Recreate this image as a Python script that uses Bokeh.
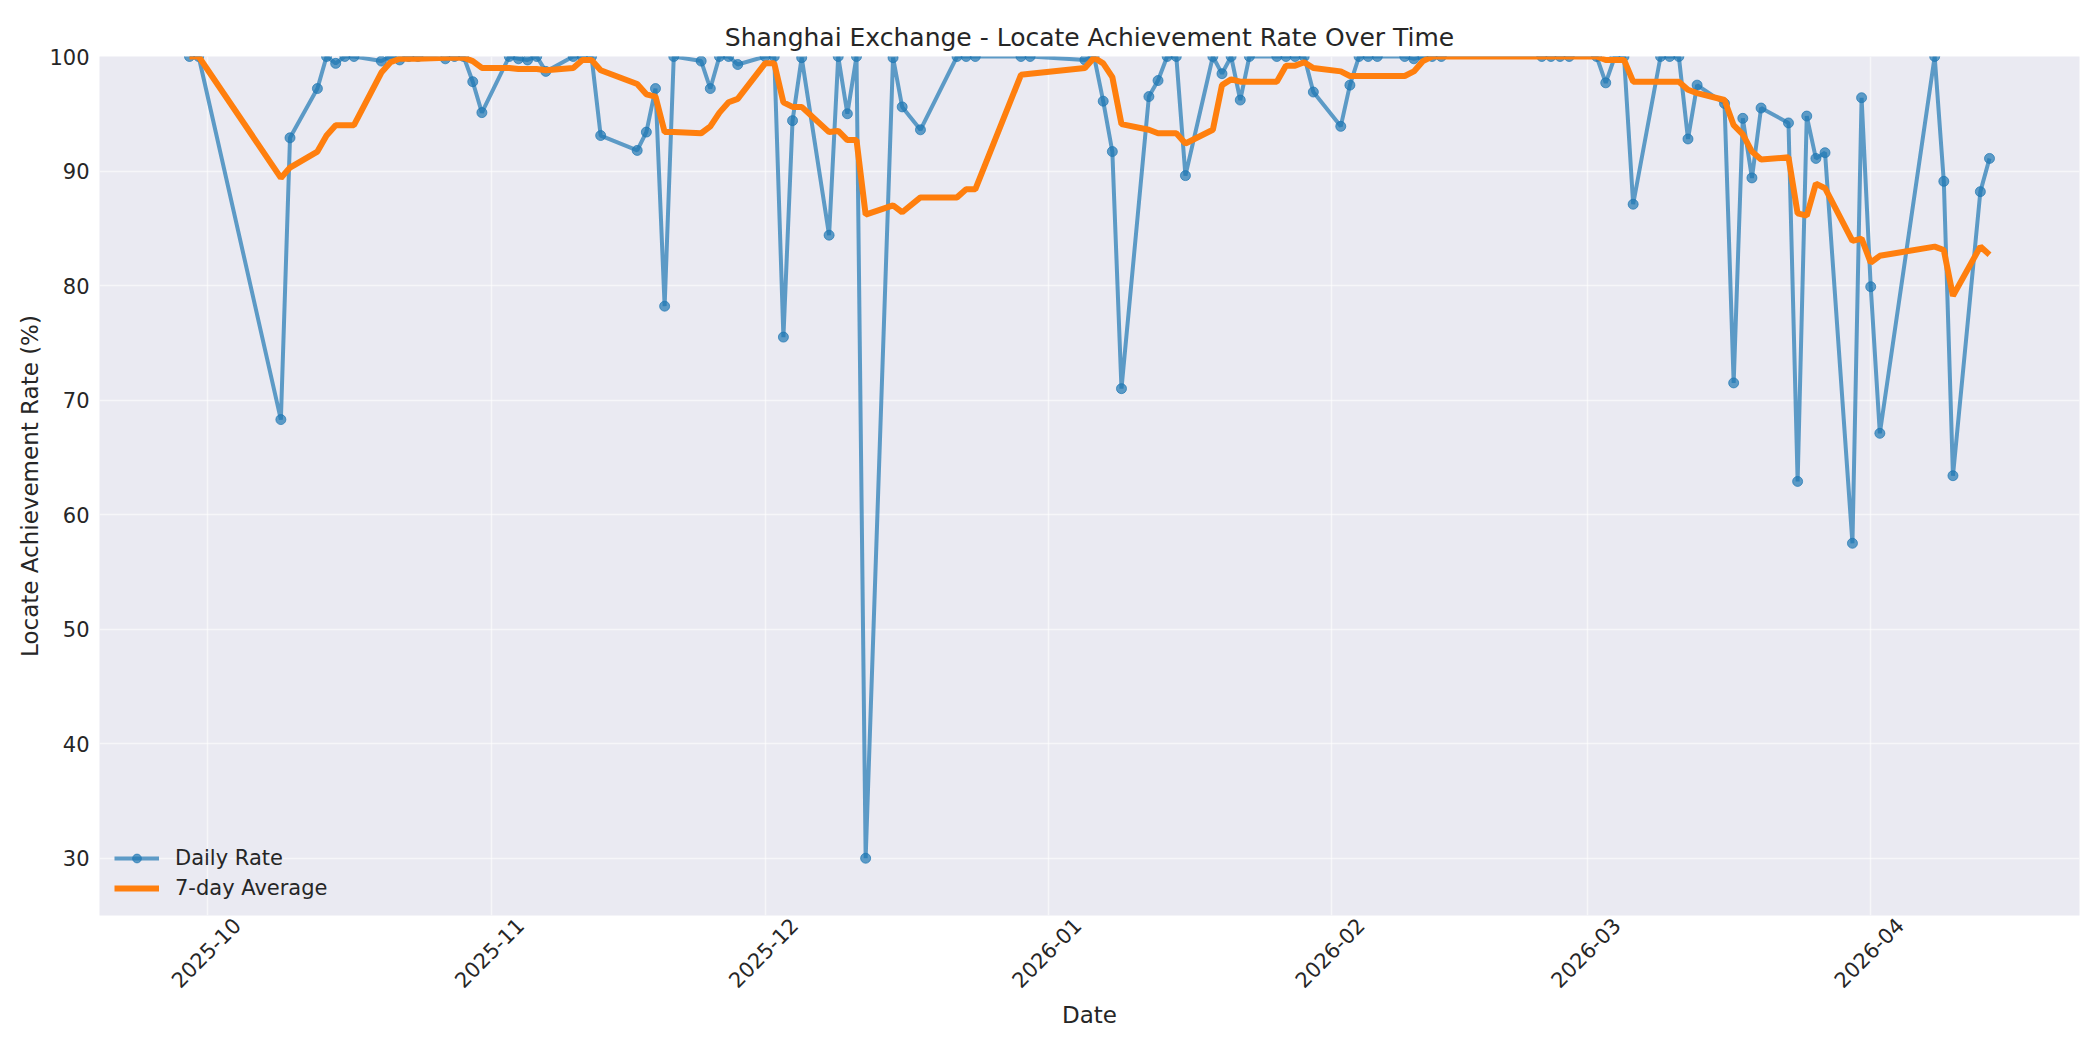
import math
import pandas as pd
from bokeh.plotting import figure
from bokeh.models import (ColumnDataSource, Range1d, FixedTicker, DatetimeTickFormatter,
                          Legend, LegendItem)
from bokeh.embed import file_html
from bokeh.resources import INLINE

dates = [
    "2025-09-29", "2025-09-30", "2025-10-09", "2025-10-10", "2025-10-13", "2025-10-14",
    "2025-10-15", "2025-10-16", "2025-10-17", "2025-10-20", "2025-10-21", "2025-10-22",
    "2025-10-23", "2025-10-24", "2025-10-27", "2025-10-28", "2025-10-29", "2025-10-30",
    "2025-10-31", "2025-11-03", "2025-11-04", "2025-11-05", "2025-11-06", "2025-11-07",
    "2025-11-10", "2025-11-11", "2025-11-12", "2025-11-13", "2025-11-17", "2025-11-18",
    "2025-11-19", "2025-11-20", "2025-11-21", "2025-11-24", "2025-11-25", "2025-11-26",
    "2025-11-27", "2025-11-28", "2025-12-01", "2025-12-02", "2025-12-03", "2025-12-04",
    "2025-12-05", "2025-12-08", "2025-12-09", "2025-12-10", "2025-12-11", "2025-12-12",
    "2025-12-15", "2025-12-16", "2025-12-18", "2025-12-22", "2025-12-23", "2025-12-24",
    "2025-12-29", "2025-12-30", "2026-01-05", "2026-01-06", "2026-01-07", "2026-01-08",
    "2026-01-09", "2026-01-12", "2026-01-13", "2026-01-14", "2026-01-15", "2026-01-16",
    "2026-01-19", "2026-01-20", "2026-01-21", "2026-01-22", "2026-01-23", "2026-01-26",
    "2026-01-27", "2026-01-28", "2026-01-29", "2026-01-30", "2026-02-02", "2026-02-03",
    "2026-02-04", "2026-02-05", "2026-02-06", "2026-02-09", "2026-02-10", "2026-02-11",
    "2026-02-12", "2026-02-13", "2026-02-24", "2026-02-25", "2026-02-26", "2026-02-27",
    "2026-03-02", "2026-03-03", "2026-03-04", "2026-03-05", "2026-03-06", "2026-03-09",
    "2026-03-10", "2026-03-11", "2026-03-12", "2026-03-13", "2026-03-16", "2026-03-17",
    "2026-03-18", "2026-03-19", "2026-03-20", "2026-03-23", "2026-03-24", "2026-03-25",
    "2026-03-26", "2026-03-27", "2026-03-30", "2026-03-31", "2026-04-01", "2026-04-02",
    "2026-04-08", "2026-04-09", "2026-04-10", "2026-04-13", "2026-04-14",
]

daily_rate = [
    100, 100, 68.3, 92.9, 97.2, 100,
    99.4, 100, 100, 99.6, 100, 99.7,
    100, 100, 99.8, 100, 100, 97.8,
    95.1, 100, 99.8, 99.7, 100, 98.7,
    100, 100, 100, 93.1, 91.8, 93.4,
    97.2, 78.2, 100, 99.6, 97.2, 100,
    100, 99.3, 100, 100, 75.5, 94.4,
    99.9, 84.4, 100, 95.0, 100, 30.0,
    99.9, 95.6, 93.6, 100, 100, 100,
    100, 100, 99.7, 100, 96.1, 91.7,
    71.0, 96.5, 97.9, 100, 100, 89.6,
    100, 98.5, 100, 96.2, 100, 100,
    100, 100, 100, 96.9, 93.9, 97.5,
    100, 100, 100, 100, 99.8, 100,
    100, 100, 100, 100, 100, 100,
    100, 97.7, 100, 100, 87.1, 100,
    100, 100, 92.8, 97.5, 95.9, 71.5,
    94.6, 89.4, 95.5, 94.2, 62.9, 94.8,
    91.1, 91.6, 57.5, 96.4, 79.9, 67.1,
    100, 89.1, 63.4, 88.2, 91.1,
]

avg_7day = [
    100, 100, 89.4, 90.3, 91.7, 93.1,
    94.0, 94.0, 94.0, 98.6, 99.5, 99.8,
    99.8, 99.8, 99.9, 99.9, 99.9, 99.6,
    99.0, 99.0, 98.9, 98.9, 98.9, 98.8,
    99.0, 99.7, 99.7, 98.8, 97.6, 96.7,
    96.5, 93.4, 93.4, 93.3, 93.9, 95.1,
    96.0, 96.3, 99.4, 99.4, 96.0, 95.6,
    95.6, 93.4, 93.5, 92.7, 92.7, 86.2,
    87.0, 86.4, 87.7, 87.7, 88.4, 88.4,
    98.4, 98.5, 99.0, 99.9, 99.4, 98.2,
    94.1, 93.6, 93.3, 93.3, 93.3, 92.4,
    93.6, 97.5, 98.0, 97.8, 97.8, 97.8,
    99.2, 99.2, 99.5, 99.0, 98.7, 98.3,
    98.3, 98.3, 98.3, 98.3, 98.7, 99.6,
    100, 100, 100, 100, 100, 100,
    100, 99.7, 99.7, 99.7, 97.8, 97.8,
    97.8, 97.8, 97.1, 96.8, 96.2, 94.0,
    93.2, 91.7, 91.0, 91.2, 86.3, 86.1,
    88.9, 88.5, 83.9, 84.1, 82.0, 82.6,
    83.4, 83.1, 79.1, 83.4, 82.7,
]

month_ticks = ["2025-10-01", "2025-11-01", "2025-12-01", "2026-01-01",
               "2026-02-01", "2026-03-01", "2026-04-01"]
y_ticks = [30, 40, 50, 60, 70, 80, 90, 100]
y_limits = [25, 100]

TXT = "#262626"
FONT = "DejaVu Sans"
W, H = 2084, 1034
BL, BR, BT, BB = 99, 5, 56, 119

x = pd.to_datetime(dates)
src = ColumnDataSource(dict(date=x, daily=daily_rate, avg=avg_7day))
pad = (x.max() - x.min()) * 0.05
x0, x1 = x.min() - pad, x.max() + pad

p = figure(width=W, height=H, x_axis_type="datetime",
           x_range=Range1d(x0.to_pydatetime(), x1.to_pydatetime()),
           y_range=Range1d(y_limits[0], y_limits[1]),
           output_backend="svg", toolbar_location=None,
           title="Shanghai Exchange - Locate Achievement Rate Over Time",
           min_border_left=BL, min_border_right=BR, min_border_top=BT, min_border_bottom=BB)

p.background_fill_color = "#EAEAF2"
p.border_fill_color = "white"
p.outline_line_color = None

p.title.text_font = FONT
p.title.text_font_size = "25px"
p.title.text_font_style = "normal"
p.title.text_color = TXT
p.title.align = "center"

r_line = p.line("date", "daily", source=src, line_color="#1f77b4", line_alpha=0.7, line_width=4)
r_pts = p.scatter("date", "daily", source=src, marker="circle", size=10,
                  fill_color="#1f77b4", line_color="#1f77b4", fill_alpha=0.7, line_alpha=0.7)
r_avg = p.line("date", "avg", source=src, line_color="#ff7f0e", line_width=6)

tick_ms = [pd.Timestamp(t).value / 1e6 for t in month_ticks]
# grid at the true month starts
p.xgrid[0].ticker = FixedTicker(ticks=tick_ms)
# Bokeh anchors rotated labels by their end; shift the label ticks so that the
# rotated labels are centred on the month starts, as in matplotlib
frame_w = W - BL - BR
ms_per_px = (x1 - x0).total_seconds() * 1000.0 / frame_w
label_shift_px = 29
p.xaxis.ticker = FixedTicker(ticks=[t + label_shift_px * ms_per_px for t in tick_ms])
fmt = "%Y-%m"
p.xaxis.formatter = DatetimeTickFormatter(
    microseconds=fmt, milliseconds=fmt, seconds=fmt, minsec=fmt, minutes=fmt,
    hourmin=fmt, hours=fmt, days=fmt, months=fmt, years=fmt)
p.xaxis.major_label_orientation = math.pi / 4
p.yaxis.ticker = FixedTicker(ticks=y_ticks)

p.xaxis.axis_label = "Date"
p.yaxis.axis_label = "Locate Achievement Rate (%)"
for ax in (p.xaxis[0], p.yaxis[0]):
    ax.axis_line_color = None
    ax.major_tick_line_color = None
    ax.minor_tick_line_color = None
    ax.major_label_text_font = FONT
    ax.major_label_text_font_size = "21px"
    ax.major_label_text_color = TXT
    ax.axis_label_text_font = FONT
    ax.axis_label_text_font_size = "23px"
    ax.axis_label_text_font_style = "normal"
    ax.axis_label_text_color = TXT
p.yaxis.major_label_standoff = 4
p.yaxis.axis_label_standoff = 3
p.xaxis.major_label_standoff = 0
p.xaxis.axis_label_standoff = 4

p.xgrid.grid_line_color = "white"
p.ygrid.grid_line_color = "white"
p.xgrid.grid_line_alpha = 0.55
p.ygrid.grid_line_alpha = 0.55
p.xgrid.grid_line_width = 1.5
p.ygrid.grid_line_width = 1.5

legend = Legend(items=[LegendItem(label="Daily Rate", renderers=[r_line, r_pts]),
                       LegendItem(label="7-day Average", renderers=[r_avg])],
                location="bottom_left")
legend.background_fill_alpha = 0
legend.border_line_color = None
legend.label_text_font = FONT
legend.label_text_font_size = "21px"
legend.label_text_color = TXT
legend.glyph_width = 45
legend.glyph_height = 22
legend.label_standoff = 16
legend.spacing = 6
legend.padding = 9
legend.margin = 15
p.add_layout(legend)

open("out.html", "w").write(file_html(p, INLINE))
